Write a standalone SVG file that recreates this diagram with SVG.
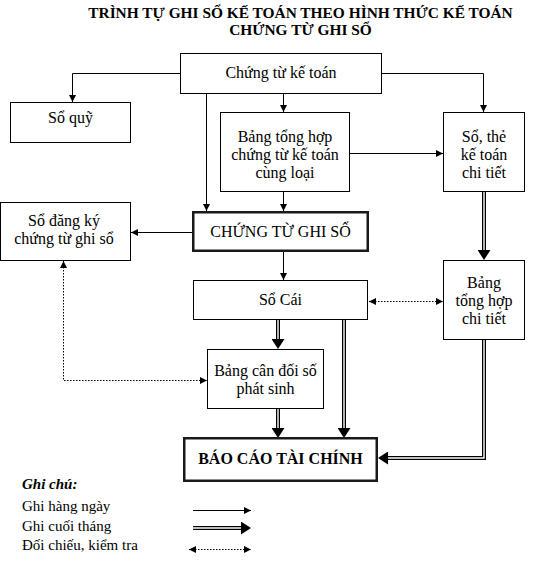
<svg xmlns="http://www.w3.org/2000/svg" width="548" height="562" viewBox="0 0 548 562">
<style>
  text { font-family: "Liberation Serif", "Times New Roman", serif; fill: #000; }
  .t { font-size: 16px; text-anchor: middle; }
  .title { font-size: 15.4px; font-weight: bold; text-anchor: middle; }
  .leg { font-size: 15px; }
  .box { fill: #fff; stroke: #000; stroke-width: 1; }
  .thick { fill: #fff; stroke: #1a1a1a; stroke-width: 2.5; }
  .line { fill: none; stroke: #000; stroke-width: 1; }
  .dot { fill: none; stroke: #000; stroke-width: 1; stroke-dasharray: 1.5 1.5; }
  .dblo { fill: none; stroke: #000; stroke-width: 4; }
  .dbli { fill: none; stroke: #fff; stroke-width: 1.4; }
</style>
<defs>
  <marker id="a" markerUnits="userSpaceOnUse" markerWidth="8" markerHeight="8" refX="7" refY="3.5" orient="auto-start-reverse">
    <path d="M0,0 L7,3.5 L0,7 Z" fill="#000"/>
  </marker>
  <marker id="d" markerUnits="userSpaceOnUse" markerWidth="11" markerHeight="13" refX="0" refY="6.5" orient="auto">
    <path d="M0,0 L10,6.5 L0,13 Z" fill="#000"/>
  </marker>
</defs>
<rect width="548" height="562" fill="#fff"/>

<g id="title">
  <text class="title" x="300.5" y="18">TRÌNH TỰ GHI SỔ KẾ TOÁN THEO HÌNH THỨC KẾ TOÁN</text>
  <text class="title" x="300.5" y="35">CHỨNG TỪ GHI SỔ</text>
</g>

<g id="connectors">
  <path class="line" d="M180 73.5 H72.5 V102" marker-end="url(#a)"/>
  <path class="line" d="M206.5 94 V211" marker-end="url(#a)"/>
  <path class="line" d="M283.5 94 V112" marker-end="url(#a)"/>
  <path class="line" d="M382 73.5 H483.5 V112" marker-end="url(#a)"/>
  <path class="line" d="M350 153.5 H443" marker-end="url(#a)"/>
  <path class="line" d="M283.5 192 V211" marker-end="url(#a)"/>
  <path class="line" d="M192 232.5 H131" marker-end="url(#a)"/>
  <path class="line" d="M283.5 252 V280" marker-end="url(#a)"/>
  <path class="dot" d="M369 301.5 H443" marker-start="url(#a)" marker-end="url(#a)"/>
  <path class="dot" d="M63.5 261 V380.5 H207" marker-start="url(#a)" marker-end="url(#a)"/>

  <path class="dblo" d="M484 192 V250" marker-end="url(#d)"/>
  <path class="dbli" d="M484 192 V250"/>
  <path class="dblo" d="M278 320 V339" marker-end="url(#d)"/>
  <path class="dbli" d="M278 320 V339"/>
  <path class="dblo" d="M344 320 V428" marker-end="url(#d)"/>
  <path class="dbli" d="M344 320 V428"/>
  <path class="dblo" d="M278 409 V428" marker-end="url(#d)"/>
  <path class="dbli" d="M278 409 V428"/>
  <path class="dblo" d="M484 340 V458 H388" marker-end="url(#d)"/>
  <path class="dbli" d="M484 340 V458 H388"/>
</g>

<g id="chung-tu-ke-toan">
  <rect class="box" x="180.5" y="53.5" width="201" height="40"/>
  <text class="t" x="281" y="78">Chứng từ kế toán</text>
</g>
<g id="so-quy">
  <rect class="box" x="10.5" y="102.5" width="120" height="40"/>
  <text class="t" x="70.5" y="123">Sổ quỹ</text>
</g>
<g id="bang-tong-hop">
  <rect class="box" x="220.5" y="112.5" width="129" height="79"/>
  <text class="t" x="285" y="142">Bảng tổng hợp</text>
  <text class="t" x="285" y="160">chứng từ kế toán</text>
  <text class="t" x="285" y="178">cùng loại</text>
</g>
<g id="so-the">
  <rect class="box" x="443.5" y="112.5" width="81" height="79"/>
  <text class="t" x="484" y="142">Sổ, thẻ</text>
  <text class="t" x="484" y="160">kế toán</text>
  <text class="t" x="484" y="178">chi tiết</text>
</g>
<g id="so-dang-ky">
  <rect class="box" x="0.5" y="202.5" width="130" height="58"/>
  <text class="t" x="64" y="226">Sổ đăng ký</text>
  <text class="t" x="64" y="244">chứng từ ghi sổ</text>
</g>
<g id="chung-tu-ghi-so">
  <rect class="thick" x="193.25" y="212.25" width="174.5" height="38.5"/>
  <text class="t" x="280.5" y="237">CHỨNG TỪ GHI SỔ</text>
</g>
<g id="so-cai">
  <rect class="box" x="193.5" y="280.5" width="174" height="39"/>
  <text class="t" x="280.5" y="305">Sổ Cái</text>
</g>
<g id="bang-tong-hop-chi-tiet">
  <rect class="box" x="443.5" y="260.5" width="81" height="79"/>
  <text class="t" x="484" y="288">Bảng</text>
  <text class="t" x="484" y="306">tổng hợp</text>
  <text class="t" x="484" y="324">chi tiết</text>
</g>
<g id="bang-can-doi">
  <rect class="box" x="207.5" y="349.5" width="116" height="59"/>
  <text class="t" x="265.5" y="376">Bảng cân đối số</text>
  <text class="t" x="265.5" y="394">phát sinh</text>
</g>
<g id="bao-cao-tai-chinh">
  <rect class="thick" x="184.25" y="438.25" width="192.5" height="42.5"/>
  <text class="t" x="280.5" y="464" font-weight="bold">BÁO CÁO TÀI CHÍNH</text>
</g>

<g id="legend">
  <text class="leg" x="22" y="489" font-weight="bold" font-style="italic">Ghi chú:</text>
  <text class="leg" x="22" y="511">Ghi hàng ngày</text>
  <text class="leg" x="22" y="531">Ghi cuối tháng</text>
  <text class="leg" x="22" y="550">Đối chiếu, kiểm tra</text>
  <path class="line" d="M193 510.5 H251" marker-end="url(#a)"/>
  <path class="dblo" d="M193 528 H241" marker-end="url(#d)"/>
  <path class="dbli" d="M193 528 H241"/>
  <path class="dot" d="M189 549.5 H251" marker-start="url(#a)" marker-end="url(#a)"/>
</g>
</svg>
